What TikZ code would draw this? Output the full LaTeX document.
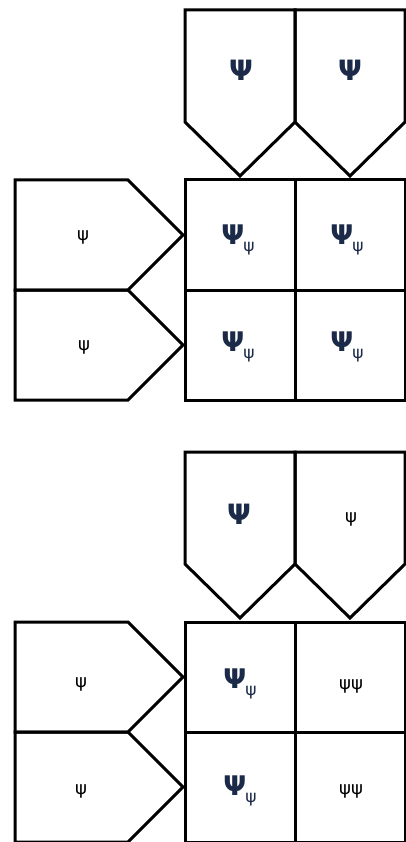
\documentclass[tikz,border=0pt]{standalone}
\usepackage{fontspec}
\setmainfont{DejaVu Sans}
\definecolor{navy}{HTML}{1B2A48}
\tikzset{
  shapeline/.style={draw=black, line width=3pt, line join=miter},
  bigpsi/.style={font=\bfseries\fontsize{28}{29}\selectfont, text=navy, inner sep=0pt},
  subpsi/.style={font=\fontsize{27}{28}\selectfont, text=navy, inner sep=0pt},
  smallpsi/.style={font=\fontsize{18}{19}\selectfont, text=black, inner sep=0pt}
}
\newcommand{\PsiSub}{\textbf{Ψ}\kern-1pt\raisebox{-0.28em}{\fontsize{17}{18}\selectfont ψ}}
\begin{document}
\begin{tikzpicture}[x=1pt,y=-1pt]
\useasboundingbox (0,0) rectangle (405,842);
\fill[white] (0,0) rectangle (405,842);
\foreach \o in {0,442}{
  \begin{scope}[yshift=-\o pt]
    % top pentagons
    \draw[shapeline] (185,10) -- (295,10) -- (295,122) -- (240,176) -- (185,122) -- cycle;
    \draw[shapeline] (295,10) -- (405,10) -- (405,122) -- (350,176) -- (295,122) -- cycle;
    % grid
    \draw[shapeline] (185,180) rectangle (405,400);
    \draw[shapeline] (295,180) -- (295,400);
    \draw[shapeline] (185,290) -- (405,290);
    % left pentagons
    \draw[shapeline] (15,180) -- (128,180) -- (183,235) -- (128,290) -- (15,290) -- cycle;
    \draw[shapeline] (15,290) -- (128,290) -- (183,345) -- (128,400) -- (15,400) -- cycle;
  \end{scope}
}
% block 1 texts
\node[bigpsi] (t1a) at (241,70) {Ψ};
\node[bigpsi] (t1b) at (350,70) {Ψ};
\node[subpsi] (g1a) at (238,240) {\PsiSub};
\node[subpsi] (g1b) at (347,240) {\PsiSub};
\node[subpsi] (g1c) at (238,347) {\PsiSub};
\node[subpsi] (g1d) at (347,347) {\PsiSub};
\node[smallpsi] (l1a) at (83,237) {ψ};
\node[smallpsi] (l1b) at (84,347) {ψ};
% block 2 texts
\node[bigpsi] (t2a) at (239,514) {Ψ};
\node[smallpsi] (t2b) at (351,519) {ψ};
\node[subpsi] (g2a) at (240,684) {\PsiSub};
\node[smallpsi] (g2b) at (351,686) {ψψ};
\node[subpsi] (g2c) at (240,791) {\PsiSub};
\node[smallpsi] (g2d) at (351,791) {ψψ};
\node[smallpsi] (l2a) at (81,684) {ψ};
\node[smallpsi] (l2b) at (81,791) {ψ};
\end{tikzpicture}
\end{document}
